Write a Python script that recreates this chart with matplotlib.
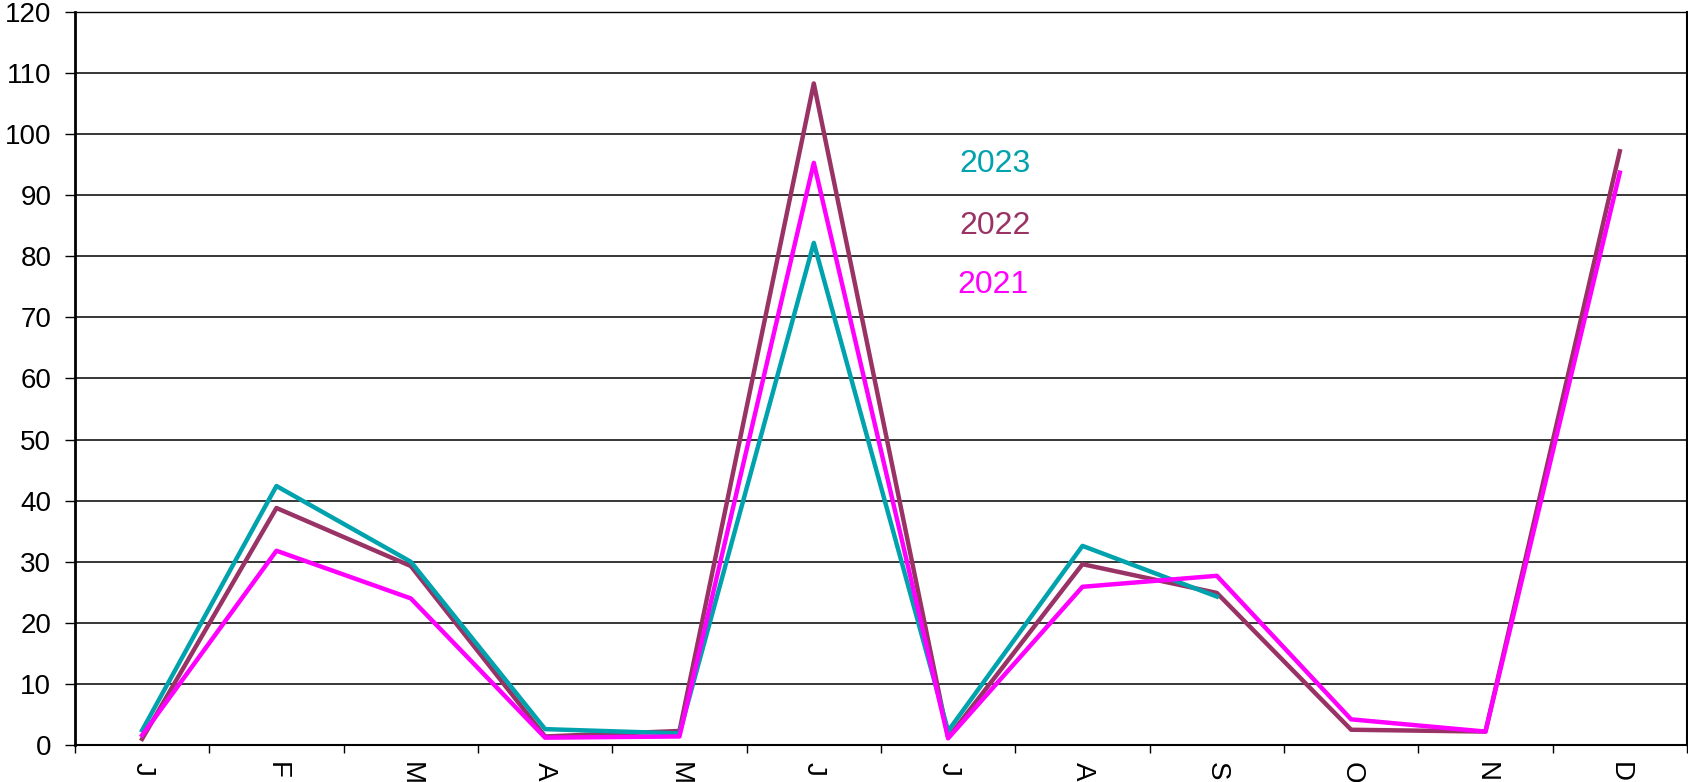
import numpy as np
import matplotlib
matplotlib.use('Agg')
import matplotlib.pyplot as plt
from matplotlib.ticker import FixedLocator

plt.rcParams['font.family'] = ['Liberation Sans', 'DejaVu Sans']

months = ['J', 'F', 'M', 'A', 'M', 'J', 'J', 'A', 'S', 'O', 'N', 'D']
y2023 = [2.4, 42.4, 30.0, 2.6, 1.9, 82.2, 2.3, 32.6, 24.3]
y2022 = [1.0, 38.8, 29.3, 1.4, 2.3, 108.3, 1.2, 29.6, 24.9, 2.5, 2.2, 97.2]
y2021 = [1.6, 31.8, 24.0, 1.2, 1.4, 95.3, 1.1, 25.9, 27.7, 4.2, 2.2, 93.7]

c2023 = '#00A3AD'
c2022 = '#993366'
c2021 = '#FF00FF'

fig = plt.figure(figsize=(16.88, 7.82), dpi=100)
ax = fig.add_axes([0.0444, 0.0473, 0.9550, 0.9374])

x = np.arange(len(months))
# 2022 underneath, 2021 on top
ax.plot(x[:len(y2022)], y2022, color=c2022, lw=3.2, zorder=2)
ax.plot(x[:len(y2023)], y2023, color=c2023, lw=3.2, zorder=3)
ax.plot(x[:len(y2021)], y2021, color=c2021, lw=3.2, zorder=4)

ax.set_xlim(-0.5, 11.5)
ax.set_ylim(0, 120)
ax.set_yticks(np.arange(0, 121, 10))
ax.grid(axis='y', color='black', lw=1.1)
ax.set_axisbelow(True)

ax.set_xticks(x)
ax.set_xticklabels(months, rotation=-90, fontsize=20)
ax.xaxis.set_minor_locator(FixedLocator(np.arange(-0.5, 12, 1)))
ax.tick_params(axis='x', which='major', length=0, pad=12)
ax.tick_params(axis='x', which='minor', length=6, width=1)
ax.tick_params(axis='y', length=7, width=1, labelsize=20, pad=10)

for s in ax.spines.values():
    s.set_color('black')
ax.spines['left'].set_linewidth(2)
ax.spines['bottom'].set_linewidth(1.5)
ax.spines['top'].set_linewidth(1)
ax.spines['right'].set_linewidth(1.5)

ax.text(0.571, 0.793, '2023', transform=ax.transAxes, color=c2023, fontsize=23, ha='center', va='center')
ax.text(0.571, 0.708, '2022', transform=ax.transAxes, color=c2022, fontsize=23, ha='center', va='center')
ax.text(0.5695, 0.628, '2021', transform=ax.transAxes, color=c2021, fontsize=23, ha='center', va='center')

fig.savefig('out.png', dpi=100)
